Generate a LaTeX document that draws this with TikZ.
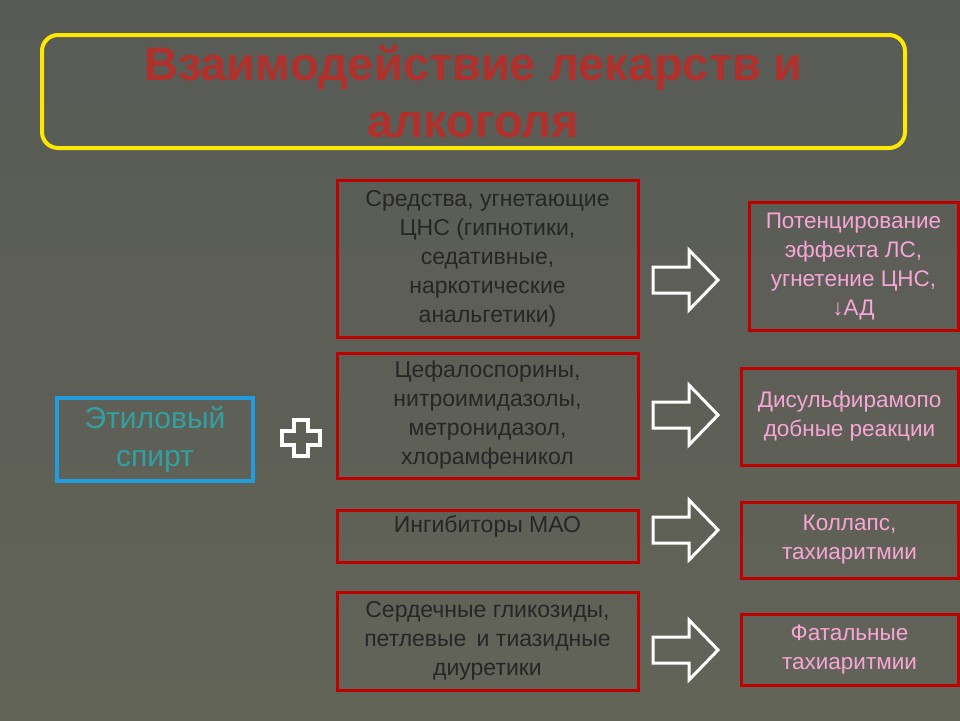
\documentclass[tikz,border=0pt]{standalone}
\usepackage{fontspec}
\setmainfont{Liberation Sans}
\begin{document}
\begin{tikzpicture}[x=1pt,y=-1pt,
 redbox/.style={draw=red!75!black,line width=3pt,inner sep=0pt},
 midtxt/.style={font=\fontsize{23}{29}\selectfont,text=black!85,align=center},
 righttxt/.style={font=\fontsize{22.5}{29}\selectfont,text=magenta!35!white,align=center},
 blockarrow/.style={draw=white,line width=3pt,line join=miter}]
\shade[top color={rgb,255:red,88;green,90;blue,86},bottom color={rgb,255:red,98;green,100;blue,88}] (0,0) rectangle (960,720);
\useasboundingbox (0,0) rectangle (960,720);
% title
\node[draw=yellow!90!orange,line width=4pt,rounded corners=16pt,minimum width=863pt,minimum height=113pt] (title) at (473.5,91.5) {};
\node[font=\bfseries\fontsize{47}{57}\selectfont,text={rgb,255:red,176;green,48;blue,44},align=center] (tt) at (title) {Взаимодействие лекарств и\\алкоголя};
% left
\node[draw=cyan!80!blue!90,line width=3.5pt,minimum width=196pt,minimum height=83pt,font=\fontsize{30}{38}\selectfont,text={rgb,255:red,48;green,160;blue,160},align=center] (eth) at (155,439.5) {Этиловый\\спирт};
\coordinate (plus) at (301,438);
\draw[white,line width=4pt,line join=miter] (294,420)--(308,420)--(308,431)--(320,431)--(320,445)--(308,445)--(308,456)--(294,456)--(294,445)--(282,445)--(282,431)--(294,431)--cycle;
% middle boxes
\node[redbox,minimum width=301pt,minimum height=157pt] (m1) at (487.5,258.5) {};
\node[midtxt] at (m1) {Средства, угнетающие\\ЦНС (гипнотики,\\седативные,\\наркотические\\анальгетики)};
\node[redbox,minimum width=301pt,minimum height=125pt] (m2) at (487.5,415.5) {};
\node[midtxt] at (m2) {Цефалоспорины,\\нитроимидазолы,\\метронидазол,\\хлорамфеникол};
\node[redbox,minimum width=301pt,minimum height=52pt] (m3) at (487.5,536) {};
\node[midtxt,anchor=north] at ([yshift=-4pt]m3.north) {Ингибиторы МАО};
\node[redbox,minimum width=301pt,minimum height=98pt] (m4) at (487.5,641) {};
\node[midtxt] at (m4) {Сердечные гликозиды,\\петлевые\, и тиазидные\\диуретики};
% right boxes
\node[redbox,minimum width=209pt,minimum height=128pt] (r1) at (853.5,266) {};
\node[righttxt] at (r1) {Потенцирование\\эффекта ЛС,\\угнетение ЦНС,\\↓АД};
\node[redbox,minimum width=217pt,minimum height=97pt] (r2) at (849.5,416.5) {};
\node[righttxt] at (r2) {Дисульфирамопо\\добные реакции};
\node[redbox,minimum width=217pt,minimum height=76pt] (r3) at (849.5,540) {};
\node[righttxt] at (r3) {Коллапс,\\тахиаритмии};
\node[redbox,minimum width=217pt,minimum height=71pt] (r4) at (849.5,649.5) {};
\node[righttxt] at (r4) {Фатальные\\тахиаритмии};
% arrows
\foreach \n/\y in {a1/280,a2/415,a3/530,a4/650}{
 \coordinate (\n) at (685,\y);
 \draw[blockarrow] ([shift={(-32,-13)}]\n)--([shift={(4,-13)}]\n)--([shift={(4,-30)}]\n)--([shift={(33,0)}]\n)--([shift={(4,30)}]\n)--([shift={(4,13)}]\n)--([shift={(-32,13)}]\n)--cycle;
}
\end{tikzpicture}
\end{document}
